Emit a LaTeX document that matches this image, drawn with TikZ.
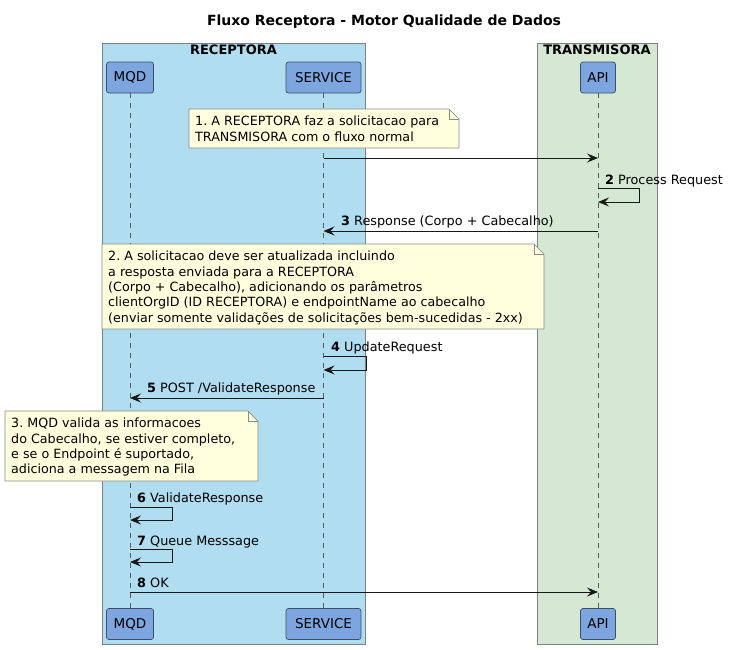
\documentclass[tikz,border=0pt]{standalone}
\usepackage{fontspec}
\setmainfont{DejaVu Sans}
\usetikzlibrary{arrows.meta}
\definecolor{rcpfill}{HTML}{B0DEF0}
\definecolor{trnfill}{HTML}{D5E8D4}
\definecolor{grpline}{HTML}{808080}
\definecolor{partfill}{HTML}{7DA6E0}
\definecolor{partline}{HTML}{3D4E66}
\definecolor{notefill}{HTML}{FEFFDD}
\definecolor{noteline}{HTML}{8A8A8A}
\definecolor{msgline}{HTML}{181818}
\definecolor{lifeline}{HTML}{5A5A5A}
\frenchspacing
\tikzset{
  grp/.style={draw=grpline, line width=0.8pt, inner sep=0pt, anchor=north west},
  grplabel/.style={font=\fontsize{13}{15}\selectfont\bfseries, inner sep=0pt},
  part/.style={draw=partline, fill=partfill, rounded corners=2.5pt, line width=0.7pt,
    minimum height=31pt, inner sep=0pt, font=\fontsize{13.5}{15}\selectfont},
  life/.style={draw=lifeline, line width=0.7pt, dash pattern=on 5pt off 5pt},
  msg/.style={draw=msgline, line width=1pt, -{Stealth[length=11pt,width=9pt,inset=4pt]}},
  lbl/.style={font=\fontsize{12.8}{15}\selectfont, inner sep=0pt, anchor=base west},
  notebox/.style={draw=noteline, fill=notefill, line width=0.7pt},
  notetxt/.style={font=\fontsize{12.7}{15.3}\selectfont, inner sep=0pt, anchor=north west, align=left},
}
\begin{document}
\begin{tikzpicture}[x=1pt,y=-1pt]
\useasboundingbox (0,0) rectangle (730,649);
\fill[white] (0,0) rectangle (730,649);

% title
\node[font=\fontsize{14}{16}\selectfont\bfseries, inner sep=0pt] (title) at (384,22) {Fluxo Receptora - Motor Qualidade de Dados};

% groups
\node[grp, fill=rcpfill, minimum width=263pt, minimum height=601pt] (rcp) at (102,43) {};
\node[grp, fill=trnfill, minimum width=120pt, minimum height=601pt] (trn) at (537,43) {};
\node[grplabel] (rcplbl) at (233.5,50) {RECEPTORA};
\node[grplabel] (trnlbl) at (597,50) {TRANSMISORA};

% participants
\node[part, minimum width=47pt] (mqdT) at (130,77.5) {MQD};
\node[part, minimum width=75pt] (svcT) at (323.5,77.5) {SERVICE};
\node[part, minimum width=35pt] (apiT) at (598,77.5) {API};
\node[part, minimum width=47pt] (mqdB) at (130,624) {MQD};
\node[part, minimum width=75pt] (svcB) at (323.5,624) {SERVICE};
\node[part, minimum width=35pt] (apiB) at (598,624) {API};

\draw[life] (mqdT.south) -- (mqdB.north);
\draw[life] (svcT.south) -- (svcB.north);
\draw[life] (apiT.south) -- (apiB.north);

% note 1
\draw[notebox] (189,109) -- (449,109) -- (459,119) -- (459,148) -- (189,148) -- cycle;
\draw[noteline, line width=0.7pt] (449,109) -- (449,119) -- (459,119);
\node[notetxt] (n1) at (195,116) {1. A RECEPTORA faz a solicitacao para\\TRANSMISORA com o fluxo normal};

% message 1
\draw[msg] (svcT |- 0,158) -- (apiT |- 0,158);

% message 2 (self)
\draw[msg] (apiT |- 0,188) -- (639,188) -- (639,202) -- (apiT |- 0,202);
\node[lbl] (l2) at (605,184) {\textbf{2} Process Request};

% message 3
\draw[msg] (apiT |- 0,231) -- (svcT |- 0,231);
\node[lbl] (l3) at (341,225) {\textbf{3} Response (Corpo + Cabecalho)};

% note 2
\draw[notebox] (102,244) -- (534,244) -- (544,254) -- (544,329) -- (102,329) -- cycle;
\draw[noteline, line width=0.7pt] (534,244) -- (534,254) -- (544,254);
\node[notetxt] (n2) at (108,251) {2. A solicitacao deve ser atualizada incluindo\\a resposta enviada para a RECEPTORA\\(Corpo + Cabecalho), adicionando os parâmetros\\clientOrgID (ID RECEPTORA) e endpointName ao cabecalho\\(enviar somente validações de solicitações bem-sucedidas - 2xx)};

% message 4 (self)
\draw[msg] (svcT |- 0,356) -- (366,356) -- (366,370) -- (svcT |- 0,370);
\node[lbl] (l4) at (331,351) {\textbf{4} UpdateRequest};

% message 5
\draw[msg] (svcT |- 0,398) -- (mqdT |- 0,398);
\node[lbl] (l5) at (147,392) {\textbf{5} POST /ValidateResponse};

% note 3
\draw[notebox] (5,411) -- (248,411) -- (258,421) -- (258,481) -- (5,481) -- cycle;
\draw[noteline, line width=0.7pt] (248,411) -- (248,421) -- (258,421);
\node[notetxt] (n3) at (11,418) {3. MQD valida as informacoes\\do Cabecalho, se estiver completo,\\e se o Endpoint é suportado,\\adiciona a messagem na Fila};

% message 6 (self)
\draw[msg] (mqdT |- 0,507) -- (172,507) -- (172,520) -- (mqdT |- 0,520);
\node[lbl] (l6) at (137,502) {\textbf{6} ValidateResponse};

% message 7 (self)
\draw[msg] (mqdT |- 0,549) -- (172,549) -- (172,562) -- (mqdT |- 0,562);
\node[lbl] (l7) at (137,545) {\textbf{7} Queue Messsage};

% message 8
\draw[msg] (mqdT |- 0,592) -- (apiT |- 0,592);
\node[lbl] (l8) at (137,587) {\textbf{8} OK};
\end{tikzpicture}
\end{document}
